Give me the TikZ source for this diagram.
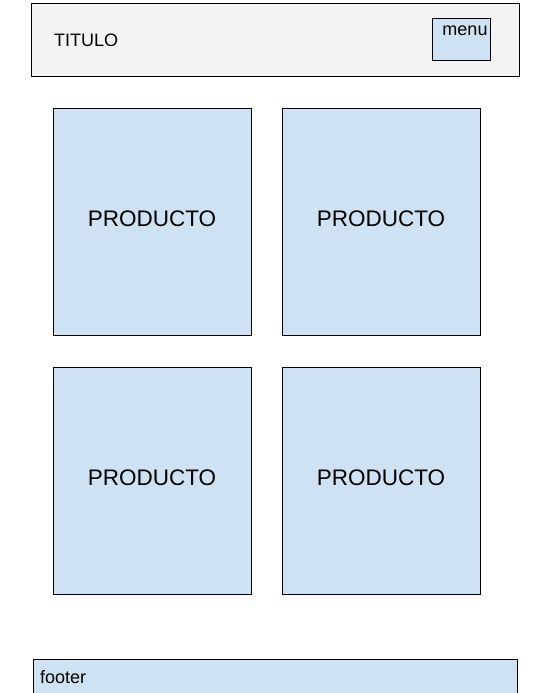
\documentclass[tikz,border=0pt]{standalone}
\usepackage{fontspec}
\setmainfont{Liberation Sans}
\definecolor{hdrfill}{HTML}{F3F3F3}
\definecolor{boxfill}{HTML}{CFE2F3}
\begin{document}
\begin{tikzpicture}[x=1pt,y=-1pt,
  box/.style={draw=black,line width=1pt,fill=boxfill,inner sep=0pt},
  hdr/.style={draw=black,line width=1pt,fill=hdrfill,inner sep=0pt},
  prodtext/.style={font=\fontsize{22.5}{26}\selectfont},
  smalltext/.style={font=\fontsize{18}{21}\selectfont,inner sep=0pt}]
\clip (0,0) rectangle (543,693);
\fill[white] (0,0) rectangle (543,693);
% header
\path[hdr] (31,4) rectangle (519,76);
\node[smalltext,anchor=west] (titulo) at (54,40) {TITULO};
\path[box] (432,19) rectangle (490,61);
\node[smalltext,anchor=north] (menu) at (465,26) {menu};
% products
\path[box] (53,108) rectangle (251,335);
\node[prodtext] (p1) at (152,219) {PRODUCTO};
\path[box] (282,108) rectangle (480,335);
\node[prodtext] (p2) at (381,219) {PRODUCTO};
\path[box] (53,367) rectangle (251,594);
\node[prodtext] (p3) at (152,478) {PRODUCTO};
\path[box] (282,367) rectangle (480,594);
\node[prodtext] (p4) at (381,478) {PRODUCTO};
% footer
\path[box] (33,659) rectangle (517,700);
\node[smalltext,anchor=west] (footer) at (40,677) {footer};
\end{tikzpicture}
\end{document}
